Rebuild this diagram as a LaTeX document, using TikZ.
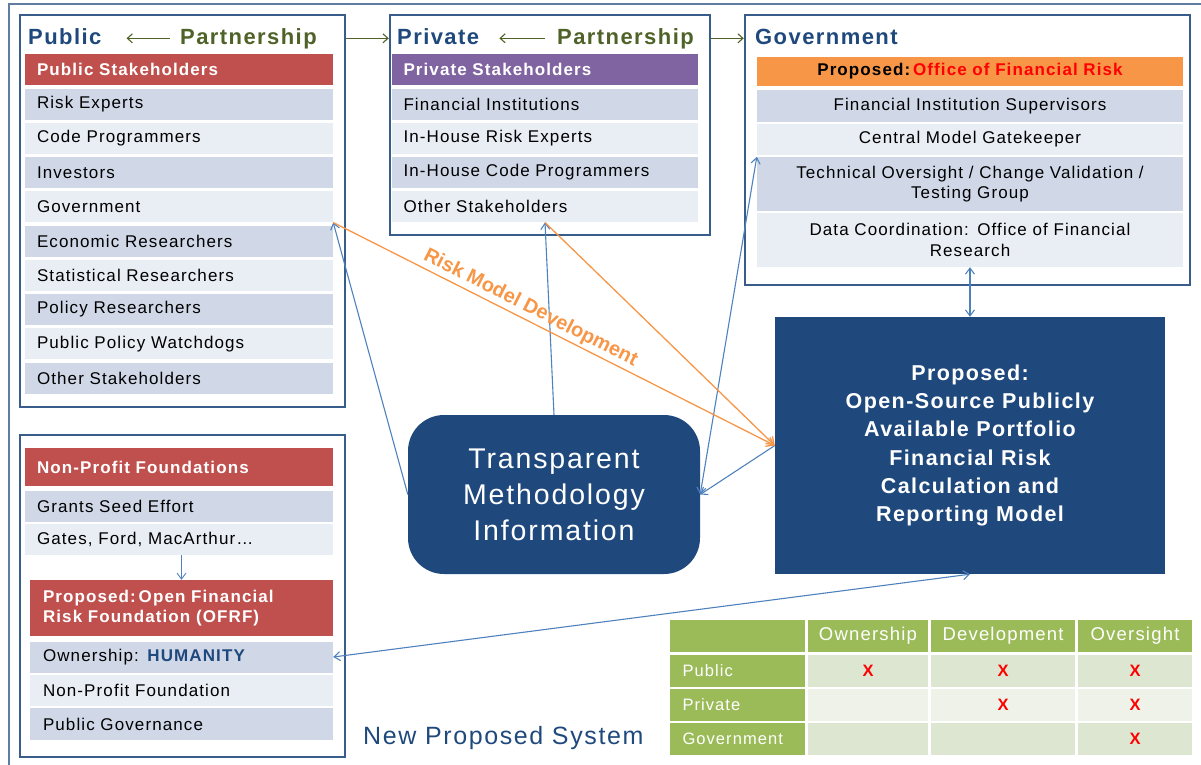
\documentclass[tikz,border=0pt]{standalone}
\usepackage{fontspec}
\setmainfont{Liberation Sans}[LetterSpace=6.5]
\newfontfamily\plainsans{Liberation Sans}
\usetikzlibrary{arrows.meta}

\definecolor{boxline}{HTML}{385D8A}
\definecolor{titleblue}{HTML}{1F497D}
\definecolor{partolive}{HTML}{4F6228}
\definecolor{headred}{HTML}{C0504D}
\definecolor{headpurple}{HTML}{8064A2}
\definecolor{headorange}{HTML}{F79646}
\definecolor{rowdark}{HTML}{D0D8E8}
\definecolor{rowlight}{HTML}{E9EDF4}
\definecolor{navy}{HTML}{1F497D}
\definecolor{linkblue}{HTML}{4F81BD}
\definecolor{tgreen}{HTML}{9BBB59}
\definecolor{tdark}{HTML}{DCE6D1}
\definecolor{tlight}{HTML}{EEF2E8}
\definecolor{markred}{HTML}{FF0000}

\newcommand{\rowsize}{\fontsize{17}{20.5}\selectfont}
\newcommand{\ttlsize}{\fontsize{22}{26}\selectfont}
\newcommand{\tabsize}{\fontsize{16.5}{20}\selectfont}

\begin{document}
\begin{tikzpicture}[x=1pt, y=-1pt,
      frame/.style = {draw=boxline, line width=2.5pt, inner sep=0pt},
      ttl/.style = {anchor=base west, inner sep=0pt, font=\ttlsize\bfseries},
      row/.style = {inner xsep=12pt, inner ysep=0pt, minimum height=31pt,
                    text width=284pt, align=left, font=\rowsize},
      head/.style = {row, fill=#1, text=white, font=\rowsize\bfseries},
      govrow/.style = {row, text width=402pt, align=center},
      link/.style = {draw=linkblue, line width=1.1pt,
                     -{Straight Barb[length=6pt,width=9pt]}},
      twoway/.style = {link, {Straight Barb[length=6pt,width=9pt]}-{Straight Barb[length=6pt,width=9pt]}},
      devline/.style = {draw=headorange, line width=1.3pt,
                    -{Straight Barb[length=7pt,width=10pt]}},
      partarrow/.style = {draw=partolive, line width=1.1pt,
                          -{Straight Barb[length=5pt,width=9pt]}},
      tcell/.style = {minimum height=32pt, inner sep=0pt, font=\tabsize}]

  \useasboundingbox (0,0) rectangle (1201,764);

  % Outer frame
  \draw[boxline!80, line width=2pt] (9,4) rectangle (1230,800);

  % Public
  \node[frame, minimum width=325, minimum height=392] (pubbox) at (182.5,211) {};
  \node[ttl, text=titleblue] (pubttl) at (28,44) {Public};
  \node[ttl, text=partolive] (pubpart) at (180,44) {Partnership};
  \node[head=headred] (pubhead) at (179,69) {Public Stakeholders};
  \node[row, fill=rowdark]  (pub1) at (179,104)   {Risk Experts};
  \node[row, fill=rowlight] (pub2) at (179,138.25) {Code Programmers};
  \node[row, fill=rowdark]  (pub3) at (179,172.5) {Investors};
  \node[row, fill=rowlight] (pub4) at (179,206.75) {Government};
  \node[row, fill=rowdark]  (pub5) at (179,241)   {Economic Researchers};
  \node[row, fill=rowlight] (pub6) at (179,275.25) {Statistical Researchers};
  \node[row, fill=rowdark]  (pub7) at (179,309.5) {Policy Researchers};
  \node[row, fill=rowlight] (pub8) at (179,343.75) {Public Policy Watchdogs};
  \node[row, fill=rowdark]  (pub9) at (179,378)   {Other Stakeholders};

  % Private
  \node[frame, minimum width=320, minimum height=220] (privbox) at (550,125) {};
  \node[ttl, text=titleblue] (privttl) at (397,44) {Private};
  \node[ttl, text=partolive] (privpart) at (557,44) {Partnership};
  \node[head=headpurple, text width=283pt, inner xsep=11.5pt] (privhead) at (545,69) {Private Stakeholders};
  \node[row, fill=rowdark,  text width=283pt, inner xsep=11.5pt] (priv1) at (545,104)   {Financial Institutions};
  \node[row, fill=rowlight, text width=283pt, inner xsep=11.5pt] (priv2) at (545,138.25) {In-House Risk Experts};
  \node[row, fill=rowdark,  text width=283pt, inner xsep=11.5pt] (priv3) at (545,172.5) {In-House Code Programmers};
  \node[row, fill=rowlight, text width=283pt, inner xsep=11.5pt] (priv4) at (545,206.75) {Other Stakeholders};

  % Government
  \node[frame, minimum width=445, minimum height=270] (govbox) at (967.5,150) {};
  \node[ttl, text=titleblue] (govttl) at (755,44) {Government};
  \node[govrow, fill=headorange, minimum height=29pt, font=\rowsize\bfseries] (govhead) at (970,71.5)
    {Proposed:\,\textcolor{markred}{Office of Financial Risk}};
  \node[govrow, fill=rowdark,  minimum height=32pt] (gov1) at (970,106) {Financial Institution Supervisors};
  \node[govrow, fill=rowlight, minimum height=31pt] (gov2) at (970,139.5) {Central Model Gatekeeper};
  \node[govrow, fill=rowdark,  minimum height=54pt] (gov3) at (970,184)
    {Technical Oversight / Change Validation /\\ Testing Group};
  \node[govrow, fill=rowlight, minimum height=54pt] (gov4) at (970,240)
    {Data Coordination: Office of Financial\\ Research};

  % Partnership arrows
  \draw[partarrow, shorten <=10pt, shorten >=25pt] (pubpart.west) -- (pubttl.east |- pubpart.west);
  \draw[partarrow] (pubbox.east |- pubpart.west) -- (privbox.west |- pubpart.west);
  \draw[partarrow, shorten <=12pt, shorten >=20pt] (privpart.west) -- (privttl.east |- privpart.west);
  \draw[partarrow] (privbox.east |- privpart.west) -- (govbox.west |- privpart.west);

  % Non-profit foundations
  \node[frame, minimum width=325, minimum height=322] (npbox) at (182.5,596) {};
  \node[head=headred, minimum height=38pt] (nphead) at (179,467) {Non-Profit Foundations};
  \node[row, fill=rowdark]  (grants) at (179,506.5) {Grants Seed Effort};
  \node[row, fill=rowlight] (gates)  at (179,539.5) {Gates, Ford, MacArthur\dots};
  \node[head=headred, minimum height=56pt, text width=277pt, inner xsep=13pt,
        font=\rowsize\bfseries] (ofrf) at (181.5,608)
    {Proposed:\,Open Financial\\ Risk Foundation (OFRF)};
  \node[row, fill=rowdark,  text width=277pt, inner xsep=13pt] (own)    at (181.5,657)
    {Ownership: \textcolor{titleblue}{\bfseries HUMANITY}};
  \node[row, fill=rowlight, text width=277pt, inner xsep=13pt] (npfound) at (181.5,690.5) {Non-Profit Foundation};
  \node[row, fill=rowdark,  text width=277pt, inner xsep=13pt, minimum height=32pt] (pubgov) at (181.5,724) {Public Governance};

  % Transparent methodology
  \node[fill=navy, rounded corners=36pt, minimum width=292, minimum height=159,
        text=white, align=center, font=\fontsize{28.5}{36}\selectfont] (trans) at (554,494.5)
    {Transparent\\ Methodology\\ Information};

  % Proposed model
  \node[fill=navy, minimum width=390, minimum height=257, text=white, align=center,
        font=\fontsize{21.5}{28.2}\selectfont\bfseries] (prop) at (970,445.5)
    {Proposed:\\ Open-Source Publicly\\ Available Portfolio\\ Financial Risk\\ Calculation and\\ Reporting Model};

  % Connectors
  \draw[link] (trans.west) -- (pub4.south east);
  \draw[link] (trans.north) -- (priv4.south);
  \draw[twoway] (gov3.north west) -- (trans.east);
  \draw[link] (prop.west) -- (trans.east);
  \draw[twoway] (gov4.south) -- (prop.north);
  \draw[twoway] (prop.south) -- (own.east);
  \draw[link, line width=0.9pt] (gates.south -| ofrf.north) -- (ofrf.north);
  \draw[devline] (pub4.south east) -- node[sloped, above, pos=0.434, inner sep=2.5pt,
      text=headorange, font=\plainsans\fontsize{20}{22}\selectfont\bfseries] {Risk Model Development} (prop.west);
  \draw[devline] (priv4.south) -- (prop.west);

  % Caption
  \node[anchor=base west, inner sep=0pt, text=titleblue, font=\fontsize{25}{30}\selectfont]
    (caption) at (363,744) {New Proposed System};

  % Table
  \node[tcell, fill=tgreen, minimum width=135] (th0) at (737.5,636) {};
  \node[tcell, fill=tgreen, minimum width=120, text=white, font=\fontsize{18.5}{22}\selectfont] (th1) at (868,636) {Ownership};
  \node[tcell, fill=tgreen, minimum width=144, text=white, font=\fontsize{18.5}{22}\selectfont] (th2) at (1003,636) {Development};
  \node[tcell, fill=tgreen, minimum width=114, text=white, font=\fontsize{18.5}{22}\selectfont] (th3) at (1135,636) {Oversight};
  \node[tcell, fill=tgreen, text width=122pt, inner xsep=6.5pt, text=white] (tr1) at (737.5,671) {\hspace*{6pt}Public};
  \node[tcell, fill=tgreen, text width=122pt, inner xsep=6.5pt, text=white] (tr2) at (737.5,705) {\hspace*{6pt}Private};
  \node[tcell, fill=tgreen, text width=122pt, inner xsep=6.5pt, text=white] (tr3) at (737.5,739) {\hspace*{6pt}Government};
  \node[tcell, fill=tdark, minimum width=120, text=markred, font=\tabsize\bfseries] (tpubown) at (868,671) {X};
  \node[tcell, fill=tdark, minimum width=144, text=markred, font=\tabsize\bfseries] (tpubdev) at (1003,671) {X};
  \node[tcell, fill=tdark, minimum width=114, text=markred, font=\tabsize\bfseries] (tpubovs) at (1135,671) {X};
  \node[tcell, fill=tlight, minimum width=120] (tprivown) at (868,705) {};
  \node[tcell, fill=tlight, minimum width=144, text=markred, font=\tabsize\bfseries] (tprivdev) at (1003,705) {X};
  \node[tcell, fill=tlight, minimum width=114, text=markred, font=\tabsize\bfseries] (tprivovs) at (1135,705) {X};
  \node[tcell, fill=tdark, minimum width=120] (tgovown) at (868,739) {};
  \node[tcell, fill=tdark, minimum width=144] (tgovdev) at (1003,739) {};
  \node[tcell, fill=tdark, minimum width=114, text=markred, font=\tabsize\bfseries] (tgovovs) at (1135,739) {X};

\end{tikzpicture}
\end{document}
